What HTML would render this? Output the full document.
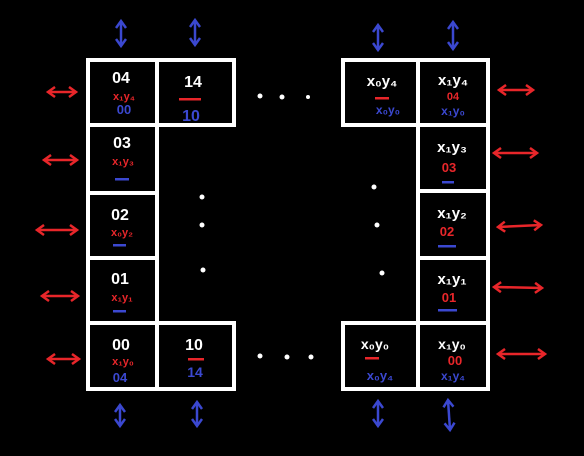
<!DOCTYPE html>
<html><head><meta charset="utf-8"><style>
html,body{margin:0;padding:0;background:#000;}
svg{display:block;}
text{font-family:"Liberation Sans",sans-serif;font-weight:bold;}
</style></head><body>
<svg width="584" height="456" viewBox="0 0 584 456">
<defs>
<marker id="ar" markerUnits="userSpaceOnUse" markerWidth="12" markerHeight="12" refX="8" refY="6" orient="auto-start-reverse"><path d="M1,1 L8,6 L1,11" fill="none" stroke="#e8262a" stroke-width="2.5"/></marker>
<marker id="ab" markerUnits="userSpaceOnUse" markerWidth="12" markerHeight="12" refX="8" refY="6" orient="auto-start-reverse"><path d="M1,1 L8,6 L1,11" fill="none" stroke="#3b48d0" stroke-width="2.5"/></marker>
</defs>
<rect width="584" height="456" fill="#000"/>
<g stroke="#fff" stroke-width="4" fill="none">
<rect x="88" y="60" width="69" height="65"/>
<rect x="88" y="125" width="69" height="68"/>
<rect x="88" y="193" width="69" height="65"/>
<rect x="88" y="258" width="69" height="65"/>
<rect x="88" y="323" width="69" height="66"/>
<rect x="157" y="60" width="77" height="65"/>
<rect x="157" y="323" width="77" height="66"/>
<rect x="343" y="60" width="75" height="65"/>
<rect x="343" y="323" width="75" height="66"/>
<rect x="418" y="60" width="70" height="65"/>
<rect x="418" y="125" width="70" height="66"/>
<rect x="418" y="191" width="70" height="67"/>
<rect x="418" y="258" width="70" height="65"/>
<rect x="418" y="323" width="70" height="66"/>
</g>
<g fill="#fff">
<circle cx="260" cy="96" r="2.5"/><circle cx="282" cy="97" r="2.5"/><circle cx="308" cy="97" r="2"/>
<circle cx="260" cy="356" r="2.5"/><circle cx="287" cy="357" r="2.5"/><circle cx="311" cy="357" r="2.5"/>
<circle cx="202" cy="197" r="2.5"/><circle cx="202" cy="225" r="2.5"/><circle cx="203" cy="270" r="2.5"/>
<circle cx="374" cy="187" r="2.5"/><circle cx="377" cy="225" r="2.5"/><circle cx="382" cy="273" r="2.5"/>
</g>
<g font-size="16" text-anchor="middle">
<g><text x="121" y="83" fill="#fff">04</text><text x="124" y="100" fill="#e8262a" font-size="11">x₁y₄</text><text x="124" y="114" fill="#3b48d0" font-size="13">00</text></g>
<g><text x="122" y="148" fill="#fff">03</text><text x="123" y="165" fill="#e8262a" font-size="11">x₁y₃</text><rect x="115" y="178" width="14" height="2.5" fill="#3b48d0"/></g>
<g><text x="120" y="220" fill="#fff">02</text><text x="122" y="236" fill="#e8262a" font-size="11">x₀y₂</text><rect x="113" y="244" width="13" height="2.5" fill="#3b48d0"/></g>
<g><text x="120" y="284" fill="#fff">01</text><text x="122" y="301" fill="#e8262a" font-size="11">x₁y₁</text><rect x="113" y="310" width="13" height="2.5" fill="#3b48d0"/></g>
<g><text x="121" y="350" fill="#fff">00</text><text x="123" y="365" fill="#e8262a" font-size="11">x₁y₀</text><text x="120" y="382" fill="#3b48d0" font-size="13">04</text></g>
<g><text x="193" y="87" fill="#fff">14</text><rect x="179" y="98" width="22" height="2.5" fill="#e8262a"/><text x="191" y="121" fill="#3b48d0">10</text></g>
<g><text x="194" y="350" fill="#fff">10</text><rect x="188" y="358" width="16" height="2.5" fill="#e8262a"/><text x="195" y="377" fill="#3b48d0" font-size="14">14</text></g>
<g><text x="382" y="86" fill="#fff" font-size="15">x₀y₄</text><rect x="375" y="97" width="14" height="2.5" fill="#e8262a"/><text x="388" y="114" fill="#3b48d0" font-size="12">x₀y₀</text></g>
<g><text x="453" y="85" fill="#fff" font-size="15">x₁y₄</text><text x="453" y="100" fill="#e8262a" font-size="11">04</text><text x="453" y="115" fill="#3b48d0" font-size="12">x₁y₀</text></g>
<g><text x="452" y="152" fill="#fff" font-size="15">x₁y₃</text><text x="449" y="172" fill="#e8262a" font-size="13">03</text><rect x="442" y="181" width="12" height="2.5" fill="#3b48d0"/></g>
<g><text x="452" y="218" fill="#fff" font-size="15">x₁y₂</text><text x="447" y="236" fill="#e8262a" font-size="13">02</text><rect x="438" y="245" width="18" height="2.5" fill="#3b48d0"/></g>
<g><text x="452" y="284" fill="#fff" font-size="15">x₁y₁</text><text x="449" y="302" fill="#e8262a" font-size="13">01</text><rect x="438" y="309" width="19" height="2.5" fill="#3b48d0"/></g>
<g><text x="375" y="349" fill="#fff" font-size="14">x₀y₀</text><rect x="365" y="357" width="14" height="2.5" fill="#e8262a"/><text x="380" y="380" fill="#3b48d0" font-size="13">x₀y₄</text></g>
<g><text x="452" y="349" fill="#fff" font-size="14">x₁y₀</text><text x="455" y="365" fill="#e8262a" font-size="13">00</text><text x="453" y="380" fill="#3b48d0" font-size="12">x₁y₄</text></g>
</g>
<g stroke="#e8262a" stroke-width="2.5">
<line x1="48" y1="92" x2="76" y2="92" marker-start="url(#ar)" marker-end="url(#ar)"/>
<line x1="44" y1="160" x2="77" y2="160" marker-start="url(#ar)" marker-end="url(#ar)"/>
<line x1="37" y1="230" x2="77" y2="230" marker-start="url(#ar)" marker-end="url(#ar)"/>
<line x1="42" y1="296" x2="78" y2="296" marker-start="url(#ar)" marker-end="url(#ar)"/>
<line x1="48" y1="359" x2="79" y2="359" marker-start="url(#ar)" marker-end="url(#ar)"/>
<line x1="499" y1="90" x2="533" y2="90" marker-start="url(#ar)" marker-end="url(#ar)"/>
<line x1="494" y1="153" x2="537" y2="153" marker-start="url(#ar)" marker-end="url(#ar)"/>
<line x1="498" y1="227" x2="541" y2="225" marker-start="url(#ar)" marker-end="url(#ar)"/>
<line x1="494" y1="287" x2="542" y2="288" marker-start="url(#ar)" marker-end="url(#ar)"/>
<line x1="498" y1="354" x2="545" y2="354" marker-start="url(#ar)" marker-end="url(#ar)"/>
</g>
<g stroke="#3b48d0" stroke-width="2.5">
<line x1="121" y1="21" x2="121" y2="46" marker-start="url(#ab)" marker-end="url(#ab)"/>
<line x1="195" y1="20" x2="195" y2="45" marker-start="url(#ab)" marker-end="url(#ab)"/>
<line x1="378" y1="25" x2="378" y2="50" marker-start="url(#ab)" marker-end="url(#ab)"/>
<line x1="453" y1="22" x2="453" y2="49" marker-start="url(#ab)" marker-end="url(#ab)"/>
<line x1="120" y1="405" x2="120" y2="426" marker-start="url(#ab)" marker-end="url(#ab)"/>
<line x1="197" y1="402" x2="197" y2="426" marker-start="url(#ab)" marker-end="url(#ab)"/>
<line x1="378" y1="401" x2="378" y2="426" marker-start="url(#ab)" marker-end="url(#ab)"/>
<line x1="448" y1="400" x2="450" y2="430" marker-start="url(#ab)" marker-end="url(#ab)"/>
</g>
</svg>
</body></html>
